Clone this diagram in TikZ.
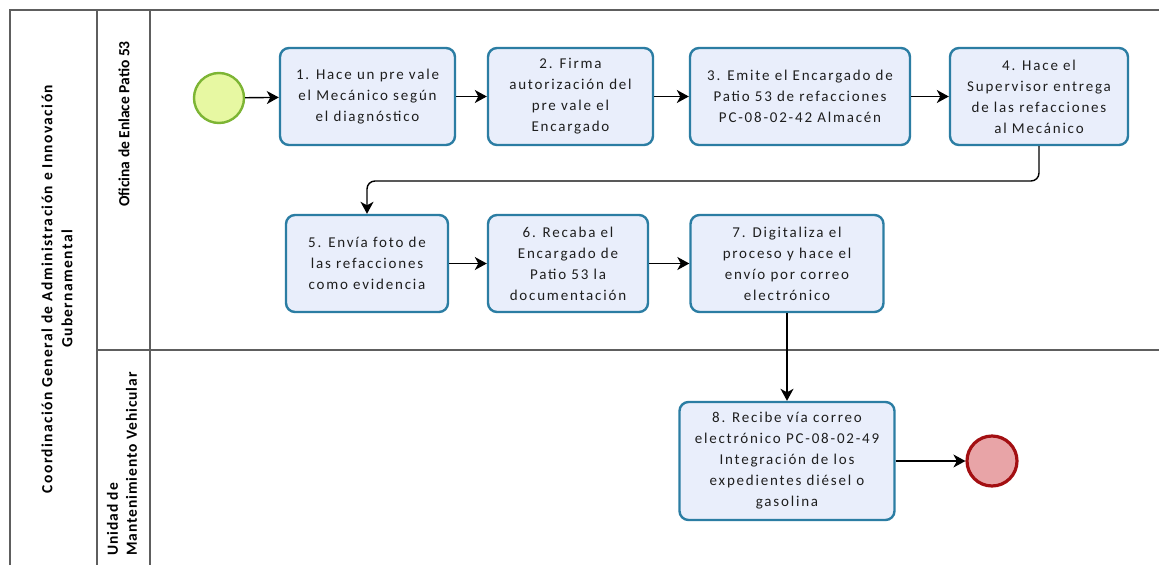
\documentclass[tikz,border=0pt]{standalone}
\usepackage{fontspec}
\setmainfont{Carlito}
\newfontfamily\taskfont[LetterSpace=12]{Carlito}
\newfontfamily\poolfont[LetterSpace=9]{Carlito}
\newfontfamily\lanefont[LetterSpace=6]{Carlito}
\usetikzlibrary{arrows.meta}
\definecolor{taskfill}{HTML}{E9EEFB}
\definecolor{taskline}{HTML}{2B7DA3}
\definecolor{startfill}{HTML}{E7F8A2}
\definecolor{startline}{HTML}{7DB534}
\definecolor{endfill}{HTML}{E8A4A7}
\definecolor{endline}{HTML}{A30F12}
\definecolor{poolline}{HTML}{5E5E5E}
\definecolor{tasktext}{HTML}{1E1E1E}
\begin{document}
\begin{tikzpicture}[x=1pt,y=-1pt,
  taskbox/.style={rectangle, rounded corners=9pt, draw=taskline, line width=2.4pt,
    fill=taskfill, minimum height=97pt, align=center, inner sep=2pt,
    text=tasktext, font=\taskfont\fontsize{15}{21}\selectfont},
  startev/.style={circle, draw=startline, line width=2.4pt, fill=startfill, minimum size=50pt, inner sep=0pt},
  endev/.style={circle, draw=endline, line width=3.2pt, fill=endfill, minimum size=50pt, inner sep=0pt},
  flow/.style={draw=black, line width=1.4pt, -{Stealth[length=12pt,width=13pt,inset=3.5pt]}},
  poolborder/.style={draw=poolline, line width=1.5pt},
  lanelabel/.style={rotate=90, font=\bfseries\fontsize{15.5}{20}\selectfont, align=center, inner sep=0pt}
]
\useasboundingbox (0,0) rectangle (1159,565);
\fill[white] (0,0) rectangle (1159,565);

% pool and lanes
\draw[poolborder] (10,565) -- (10,10) -- (1159,10);
\draw[poolborder] (97,10) -- (97,565);
\draw[poolborder] (150,10) -- (150,565);
\draw[poolborder] (97,350) -- (1159,350);

\node[lanelabel, font=\poolfont\bfseries\fontsize{15.5}{20}\selectfont] (pool) at (57,289) {Coordinación General de Administración e Innovación\\Gubernamental};
\node[lanelabel] (lane1) at (124,124) {Oficina de Enlace Patio 53};
\node[lanelabel, font=\lanefont\bfseries\fontsize{15.5}{19}\selectfont, align=left, anchor=west] (lane2) at (122,556) {Unidad de\\Mantenimiento Vehicular};

% events and tasks
\node[startev] (start) at (219,98) {};
\node[taskbox, minimum width=175pt] (t1) at (367.5,96.5) {1. Hace un pre vale\\el Mecánico según\\el diagnóstico};
\node[taskbox, minimum width=165pt] (t2) at (570.5,96.5) {2. Firma\\autorización del\\pre vale el\\Encargado};
\node[taskbox, minimum width=220pt] (t3) at (800,96.5) {3. Emite el Encargado de\\Patio 53 de refacciones\\PC-08-02-42 Almacén};
\node[taskbox, minimum width=178pt] (t4) at (1039,96.5) {4. Hace el\\Supervisor entrega\\de las refacciones\\al Mecánico};
\node[taskbox, minimum width=162pt] (t5) at (367,263.5) {5. Envía foto de\\las refacciones\\como evidencia};
\node[taskbox, minimum width=160pt] (t6) at (568,263.5) {6. Recaba el\\Encargado de\\Patio 53 la\\documentación};
\node[taskbox, minimum width=193pt] (t7) at (787,263.5) {7. Digitaliza el\\proceso y hace el\\envío por correo\\electrónico};
\node[taskbox, minimum width=215pt, minimum height=118pt] (t8) at (787,461) {8. Recibe vía correo\\electrónico PC-08-02-49\\Integración de los\\expedientes diésel o\\gasolina};
\node[endev] (end) at (992,461) {};

\coordinate (bendR) at (t4.south |- 0,181);
\coordinate (bendL) at (t5.north |- 0,181);

% flows
\draw[flow] (start) -- (t1);
\draw[flow] (t1) -- (t2);
\draw[flow] (t2) -- (t3);
\draw[flow] (t3) -- (t4);
\draw[flow, rounded corners=8pt] (t4.south) -- (bendR) -- (bendL) -- (t5.north);
\draw[flow] (t5) -- (t6);
\draw[flow] (t6) -- (t7);
\draw[flow] (t7) -- (t8);
\draw[flow] (t8) -- (end);
\end{tikzpicture}
\end{document}
